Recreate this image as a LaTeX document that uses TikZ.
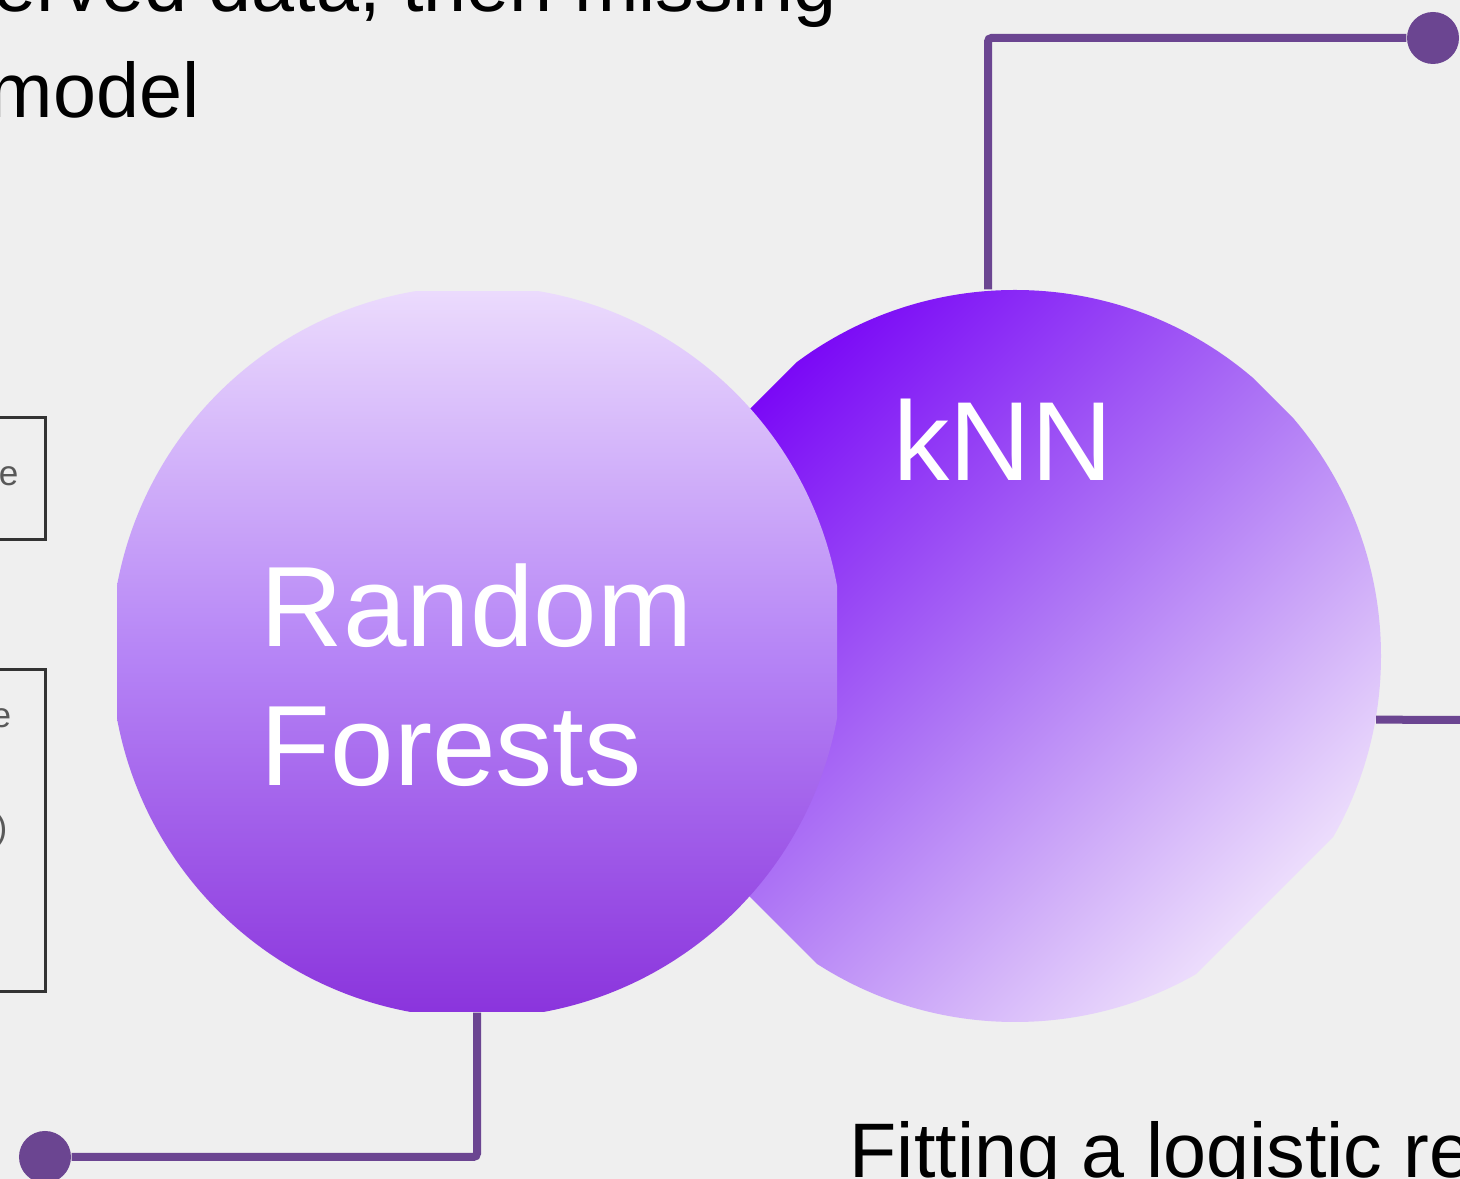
\documentclass[tikz,border=0pt]{standalone}
\usepackage{fontspec}
\setmainfont{Liberation Sans}
\usepackage{xcolor}
\usepackage{tikz}
\usetikzlibrary{positioning}
\definecolor{slidebg}{HTML}{EFEFEF}
\definecolor{linkpurple}{HTML}{6B4591}
\definecolor{rftop}{HTML}{ECDCFD}
\definecolor{rfmid}{HTML}{B685F6}
\definecolor{rfbot}{HTML}{8A33DC}
\definecolor{knntop}{HTML}{7A08F6}
\definecolor{knnmid}{HTML}{AE76F5}
\definecolor{knnbot}{HTML}{EEE0FC}

\begin{document}
\begin{tikzpicture}[
		bodytxt/.style={font=\fontsize{22}{26}\selectfont, text=black, inner sep=0pt},
		balltxt/.style={font=\fontsize{32.5}{39.5}\selectfont, text=white, inner sep=0pt, align=left},
		rfball/.style={circle, minimum size=7.32cm, inner sep=0pt,
				path picture={\shade[top color=rftop, bottom color=rfbot, middle color=rfmid]
						([xshift=-3.6cm,yshift=-3.6cm]path picture bounding box.center) rectangle
						([xshift=3.6cm,yshift=3.6cm]path picture bounding box.center);}},
		knnball/.style={circle, minimum size=7.32cm, inner sep=0pt,
				path picture={\clip ([xshift=-5.09cm,yshift=0.03cm]path picture bounding box.center)
						-- ([xshift=0.02cm,yshift=5.14cm]path picture bounding box.center)
						-- ([xshift=5.075cm,yshift=0.085cm]path picture bounding box.center)
						-- ([xshift=-0.035cm,yshift=-5.025cm]path picture bounding box.center) -- cycle;
						\shade[top color=knntop, bottom color=knnbot, middle color=knnmid, shading angle=45]
						(path picture bounding box.south west) rectangle (path picture bounding box.north east);}},
		link/.style={draw=linkpurple, line width=0.08cm, rounded corners=1pt},
		dot/.style={circle, fill=linkpurple, minimum size=0.52cm, inner sep=0pt},
		cutbox/.style={draw=black!80, line width=0.035cm, inner sep=0pt, minimum width=1.2cm},
		cuttxt/.style={font=\fontsize{10}{12}\selectfont, text=black!65, inner sep=0pt},
	]
	\useasboundingbox (0,0) rectangle (14.60,-11.79);
	\clip (0,0) rectangle (14.60,-11.79);
	\fill[slidebg] (0,0) rectangle (14.60,-11.79);

	\node[bodytxt, anchor=base east] (topline) at (8.37,-0.12) {erved data, then missing};
	\node[bodytxt, anchor=base east] (model) at (2.00,-1.18) {model};
	\node[bodytxt, anchor=base west] (fitting) at (8.49,-11.78) {Fitting a logistic re};

	\node[cutbox, minimum height=1.22cm, anchor=north east] (boxa) at (0.47,-4.16) {};
	\node[cutbox, minimum height=3.22cm, anchor=north east] (boxb) at (0.47,-6.68) {};
	\node[cuttxt, anchor=east] (ea) at (0.19,-4.76) {e};
	\node[cuttxt, anchor=east] (eb) at (0.12,-7.18) {e};
	\node[cuttxt, anchor=east] (pb) at (0.08,-8.30) {)};

	\node[knnball] (knn) at (10.15,-6.56) {};
	\node[balltxt, anchor=base, font=\fontsize{32}{38}\selectfont] (knntxt) at (10.03,-4.81) {kNN};
	\node[rfball] (rf) at (4.77,-6.52) {};
	\node[balltxt, anchor=north west] (rftxt) at (2.60,-5.63) {Random\\Forests};

	\node[dot] (dottop) at (14.33,-0.38) {};
	\node[dot] (dotbot) at (0.45,-11.57) {};
	\coordinate (rightend) at (14.75,-7.20);
	\draw[link] ([xshift=-2.7mm]knn.north) |- (dottop);
	\draw[link] (knn.-10) -- (rightend);
	\draw[link] ([yshift=0.6mm]rf.south) |- (dotbot);
\end{tikzpicture}
\end{document}
